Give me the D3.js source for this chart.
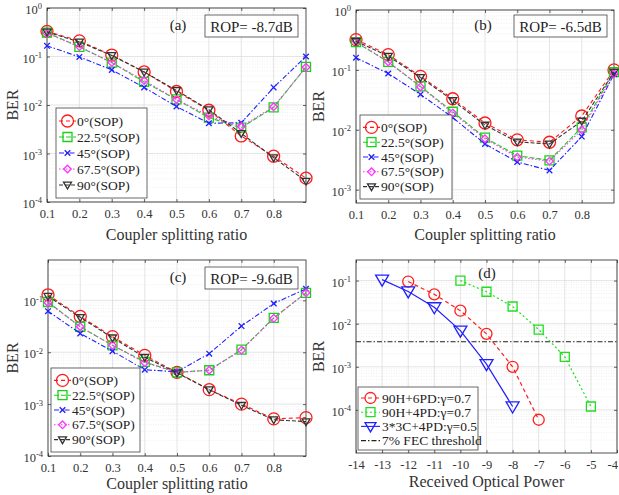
<!DOCTYPE html>
<html>
<head>
<meta charset="utf-8">
<script src="https://cdn.jsdelivr.net/npm/d3@7"></script>
<style>
  body { margin: 0; background: #fff; }
  svg { display: block; font-family: "Liberation Serif", "Times New Roman", serif; }
  svg text { font-family: "Liberation Serif", "Times New Roman", serif; }
</style>
</head>
<body>
<svg id="fig" width="619" height="495"></svg>
<script>
// splitting ratio (x of panels a-c)
const ratio = [0.1, 0.2, 0.3, 0.4, 0.5, 0.6, 0.7, 0.8, 0.9];
const ratioTicks = [0.1, 0.2, 0.3, 0.4, 0.5, 0.6, 0.7, 0.8];
const sopNames = ['0°(SOP)', '22.5°(SOP)', '45°(SOP)', '67.5°(SOP)', '90°(SOP)'];

// (a) ROP = -8.7dB
const berA0  = [0.33, 0.21, 0.107, 0.048, 0.019, 0.0078, 0.0023, 0.00088, 0.00031];
const berA22 = [0.31, 0.158, 0.075, 0.030, 0.013, 0.0055, 0.0034, 0.0089, 0.061];
const berA45 = [0.166, 0.098, 0.053, 0.023, 0.0093, 0.0042, 0.0043, 0.023, 0.10];
const berA67 = [0.30, 0.16, 0.075, 0.032, 0.013, 0.006, 0.0036, 0.0092, 0.06];
const berA90 = [0.32, 0.20, 0.105, 0.048, 0.020, 0.008, 0.0026, 0.00082, 0.00027];

// (b) ROP = -6.5dB
const berB0  = [0.32, 0.18, 0.078, 0.033, 0.013, 0.0068, 0.0062, 0.017, 0.10];
const berB22 = [0.29, 0.136, 0.053, 0.020, 0.0074, 0.0037, 0.0031, 0.011, 0.092];
const berB45 = [0.16, 0.087, 0.039, 0.016, 0.0058, 0.0029, 0.0021, 0.0077, 0.085];
const berB67 = [0.30, 0.136, 0.052, 0.019, 0.0071, 0.0035, 0.0030, 0.010, 0.087];
const berB90 = [0.30, 0.17, 0.075, 0.031, 0.012, 0.0063, 0.0058, 0.014, 0.092];

// (c) ROP = -9.6dB
const berC0  = [0.128, 0.049, 0.020, 0.0087, 0.0041, 0.0019, 0.0010, 0.00052, 0.00055];
const berC22 = [0.093, 0.031, 0.0136, 0.0065, 0.0041, 0.0045, 0.0112, 0.046, 0.14];
const berC45 = [0.062, 0.023, 0.0105, 0.0046, 0.0042, 0.0094, 0.032, 0.087, 0.167];
const berC67 = [0.090, 0.031, 0.0136, 0.0063, 0.0041, 0.0045, 0.011, 0.045, 0.14];
const berC90 = [0.120, 0.047, 0.019, 0.0080, 0.0040, 0.0019, 0.00095, 0.00050, 0.00046];

// (d) received optical power
const powerTicks = [-14, -13, -12, -11, -10, -9, -8, -7, -6, -5, -4];
const pow6PD = [-12, -11, -10, -9, -8, -7];
const ber6PD = [0.095, 0.048, 0.020, 0.0058, 0.0010, 0.000059];
const pow4PD = [-10, -9, -8, -7, -6, -5];
const ber4PD = [0.10, 0.055, 0.025, 0.0073, 0.0017, 0.00012];
const pow3C = [-13, -12, -11, -10, -9, -8];
const ber3C = [0.105, 0.056, 0.024, 0.0069, 0.00115, 0.00012];
const fecBER = 3.8e-3;
const dNames = ['90H+6PD:γ=0.7', '90H+4PD:γ=0.7', '3*3C+4PD:γ=0.5', '7% FEC threshold'];

const sopStyles = [
  { color: '#ff1a1a', dash: '4,3', marker: 'circle', size: 6 },
  { color: '#19d019', dash: '5,2', marker: 'square', size: 4.5 },
  { color: '#1f1fff', dash: '5,2,1.5,2', marker: 'x', size: 2.8 },
  { color: '#ff33ff', dash: '1.5,2', marker: 'diamond', size: 3.8 },
  { color: '#333333', dash: '4,2', marker: 'tri', size: 4 },
];

const svg = d3.select('#fig');

function marker(g, type, x, y, s, color) {
  if (type === 'circle') {
    g.append('circle').attr('cx', x).attr('cy', y).attr('r', s)
      .attr('fill', 'none').attr('stroke', color).attr('stroke-width', 1.3);
    return;
  }
  let d;
  if (type === 'square') d = `M${-s},${-s}H${s}V${s}H${-s}Z`;
  if (type === 'x') d = `M${-s},${-s}L${s},${s}M${-s},${s}L${s},${-s}`;
  if (type === 'diamond') d = `M0,${-s}L${s},0L0,${s}L${-s},0Z`;
  if (type === 'tri') d = `M${-s},${-s * 0.7}L${s},${-s * 0.7}L0,${s}Z`;
  g.append('path').attr('d', d).attr('transform', `translate(${x},${y})`)
    .attr('fill', 'none').attr('stroke', color).attr('stroke-width', 1.3);
}

function drawAxes(p) {
  const g = svg.append('g');
  const x = p.x, y = p.y;
  const [x0, x1] = x.range(), [y1, y0] = y.range();

  // grid: minor log lines, then decades and x ticks
  const dec = y.ticks().filter(v => {
    const m = v / Math.pow(10, Math.floor(Math.log10(v) + 1e-9));
    return Math.abs(m - 1) > 1e-6;
  });
  g.selectAll('.mg').data(dec).enter().append('line')
    .attr('x1', x0).attr('x2', x1).attr('y1', d => y(d)).attr('y2', d => y(d))
    .attr('stroke', '#e4e4e4').attr('stroke-width', 0.6).attr('stroke-dasharray', '1,1.5');
  g.selectAll('.gy').data(p.yTicks).enter().append('line')
    .attr('x1', x0).attr('x2', x1).attr('y1', d => y(d)).attr('y2', d => y(d))
    .attr('stroke', '#d8d8d8').attr('stroke-width', 0.7);
  g.selectAll('.gx').data(p.xTicks).enter().append('line')
    .attr('x1', d => x(d)).attr('x2', d => x(d)).attr('y1', y0).attr('y2', y1)
    .attr('stroke', '#d8d8d8').attr('stroke-width', 0.7);

  const xa = g.append('g').attr('transform', `translate(0,${y1})`)
    .call(d3.axisBottom(x).tickValues(p.xTicks).tickSize(-3).tickPadding(7).tickFormat(p.xFormat));
  g.append('g').attr('transform', `translate(0,${y0})`)
    .call(d3.axisTop(x).tickValues(p.xTicks).tickSize(-3).tickFormat(''));
  const ya = g.append('g').attr('transform', `translate(${x0},0)`)
    .call(d3.axisLeft(y).tickValues(p.yTicks).tickSize(-3).tickPadding(5));
  g.append('g').attr('transform', `translate(${x1},0)`)
    .call(d3.axisRight(y).tickValues(p.yTicks).tickSize(-3).tickFormat(''));
  g.selectAll('.domain').remove();
  g.selectAll('g').attr('font-family', null).attr('font-size', null);
  g.selectAll('.tick line').attr('stroke', '#262626').attr('stroke-width', 0.7);
  xa.selectAll('text').attr('font-size', 12.5).attr('fill', '#333');
  ya.selectAll('text').each(function (v) {
    const t = d3.select(this).text('').attr('font-size', 12.5).attr('fill', '#333')
      .attr('dy', '0.45em');
    t.append('tspan').text('10');
    const e = Math.round(Math.log10(v));
    t.append('tspan').attr('dy', '-0.55em').attr('font-size', 8.5).text(e === 0 ? '0' : '-' + (-e));
  });

  g.append('rect').attr('x', x0).attr('y', y0).attr('width', x1 - x0).attr('height', y1 - y0)
    .attr('fill', 'none').attr('stroke', '#262626').attr('stroke-width', 0.8);

  g.append('text').attr('x', (x0 + x1) / 2 + p.titleDx).attr('y', p.titleY)
    .attr('text-anchor', 'middle').attr('font-size', 16).attr('fill', '#333').text(p.xTitle);
  g.append('text').attr('transform', `translate(${p.berX},${(y0 + y1) / 2}) rotate(-90)`)
    .attr('text-anchor', 'middle').attr('font-size', 16).attr('fill', '#333').text('BER');
  g.append('text').attr('x', p.tagX).attr('y', p.tagY).attr('text-anchor', 'middle')
    .attr('font-size', 15).attr('fill', '#222').text(p.tag);
  return { g, xa };
}

function sopPanel(p, series) {
  p.x = d3.scaleLinear().domain([0.1, 0.9]).range([p.left, p.right]);
  p.y = d3.scaleLog().domain(p.yDomain).range([p.bottom, p.top]);
  p.xTicks = ratioTicks;
  p.xFormat = d3.format('.1f');
  p.xTitle = 'Coupler splitting ratio';
  const { g } = drawAxes(p);
  const line = d3.line().x((d, i) => p.x(ratio[i])).y(d => p.y(d));
  series.forEach((vals, k) => {
    const st = sopStyles[k];
    g.append('path').attr('d', line(vals)).attr('fill', 'none').attr('stroke', st.color)
      .attr('stroke-width', 1.1).attr('stroke-dasharray', st.dash);
    vals.forEach((v, i) => marker(g, st.marker, p.x(ratio[i]), p.y(v), st.size, st.color));
  });

  // ROP box
  g.append('rect').attr('x', p.rop[0]).attr('y', p.rop[1]).attr('width', 93).attr('height', 22)
    .attr('fill', '#fff').attr('stroke', '#444').attr('stroke-width', 0.8);
  g.append('text').attr('x', p.rop[0] + 46.5).attr('y', p.rop[1] + 16.5).attr('text-anchor', 'middle')
    .attr('font-size', 15).attr('fill', '#222').text(p.ropText);

  // legend
  const [lx, ly, lw, lh] = p.legend;
  const lg = g.append('g');
  lg.append('rect').attr('x', lx).attr('y', ly).attr('width', lw).attr('height', lh)
    .attr('fill', '#fff').attr('stroke', '#444').attr('stroke-width', 0.8);
  const step = (lh - 10) / 5;
  sopNames.forEach((name, k) => {
    const st = sopStyles[k];
    const yy = ly + 5 + step * (k + 0.5);
    lg.append('line').attr('x1', lx + 3).attr('x2', lx + 20).attr('y1', yy).attr('y2', yy)
      .attr('stroke', st.color).attr('stroke-width', 1.1).attr('stroke-dasharray', st.dash);
    marker(lg, st.marker, lx + 11.5, yy, st.size, st.color);
    lg.append('text').attr('x', lx + 21).attr('y', yy + 4.5).attr('font-size', 13.5)
      .attr('fill', '#222').text(name);
  });
}

sopPanel({ left: 47, top: 8, right: 306, bottom: 202, yDomain: [1e-4, 1],
  yTicks: [1e-4, 1e-3, 1e-2, 1e-1, 1], titleY: 240, titleDx: 0, berX: 18,
  tag: '(a)', tagX: 178, tagY: 30, rop: [205, 15], ropText: 'ROP= -8.7dB',
  legend: [56, 108, 91, 90] }, [berA0, berA22, berA45, berA67, berA90]);

sopPanel({ left: 356, top: 10, right: 614, bottom: 203, yDomain: [6e-4, 1],
  yTicks: [1e-3, 1e-2, 1e-1, 1], titleY: 240, titleDx: 0, berX: 324,
  tag: '(b)', tagX: 483, tagY: 30, rop: [514, 15], ropText: 'ROP= -6.5dB',
  legend: [360, 115, 92, 84] }, [berB0, berB22, berB45, berB67, berB90]);

sopPanel({ left: 48, top: 260, right: 306, bottom: 456, yDomain: [1e-4, 0.6],
  yTicks: [1e-4, 1e-3, 1e-2, 1e-1], titleY: 489, titleDx: 0, berX: 18,
  tag: '(c)', tagX: 178, tagY: 282, rop: [205, 267], ropText: 'ROP= -9.6dB',
  legend: [51, 368, 89, 84] }, [berC0, berC22, berC45, berC67, berC90]);

// (d)
(function () {
  const p = { left: 356, top: 260, right: 617, bottom: 453, titleY: 487, titleDx: 0, berX: 324,
    tag: '(d)', tagX: 487, tagY: 278 };
  p.x = d3.scaleLinear().domain([-14, -4]).range([p.left, p.right]);
  p.y = d3.scaleLog().domain([1e-5, 0.3]).range([p.bottom, p.top]);
  p.xTicks = powerTicks;
  p.yTicks = [1e-4, 1e-3, 1e-2, 1e-1];
  p.xFormat = d => String(d);
  p.xTitle = 'Received Optical Power';
  const { g, xa } = drawAxes(p);
  // last tick label sits at the figure edge: keep it inside
  xa.selectAll('text').filter(d => d === -4).attr('text-anchor', 'end').attr('dx', 0.5);

  const fecDash = '5,2,1.5,2';
  g.append('line').attr('x1', p.left).attr('x2', p.right).attr('y1', p.y(fecBER)).attr('y2', p.y(fecBER))
    .attr('stroke', '#222').attr('stroke-width', 1.1).attr('stroke-dasharray', fecDash);

  const series = [
    { xs: pow6PD, ys: ber6PD, color: '#ff2020', dash: '4,3', marker: 'circle', size: 5.5 },
    { xs: pow4PD, ys: ber4PD, color: '#22dd22', dash: '2,2.5', marker: 'square', size: 4.5 },
    { xs: pow3C, ys: ber3C, color: '#2020ff', dash: null, marker: 'tri', size: 6.5 },
  ];
  series.forEach(s => {
    const line = d3.line().x((d, i) => p.x(s.xs[i])).y(d => p.y(d));
    g.append('path').attr('d', line(s.ys)).attr('fill', 'none').attr('stroke', s.color)
      .attr('stroke-width', 1.2).attr('stroke-dasharray', s.dash);
    s.ys.forEach((v, i) => marker(g, s.marker, p.x(s.xs[i]), p.y(v), s.size, s.color));
  });

  const lx = 358, ly = 387, lw = 120, lh = 63;
  const lg = g.append('g');
  lg.append('rect').attr('x', lx).attr('y', ly).attr('width', lw).attr('height', lh)
    .attr('fill', '#fff').attr('stroke', '#444').attr('stroke-width', 0.8);
  dNames.forEach((name, k) => {
    const yy = ly + 11 + k * 14.2;
    const s = series[k];
    lg.append('line').attr('x1', lx + 3).attr('x2', lx + 22).attr('y1', yy).attr('y2', yy)
      .attr('stroke', s ? s.color : '#222').attr('stroke-width', 1.1)
      .attr('stroke-dasharray', s ? s.dash : fecDash);
    if (s) marker(lg, s.marker, lx + 12.5, yy, Math.min(s.size, 5.5), s.color);
    lg.append('text').attr('x', lx + 24).attr('y', yy + 4.5).attr('font-size', 13.5)
      .attr('fill', '#222').text(name);
  });
})();
</script>
</body>
</html>
